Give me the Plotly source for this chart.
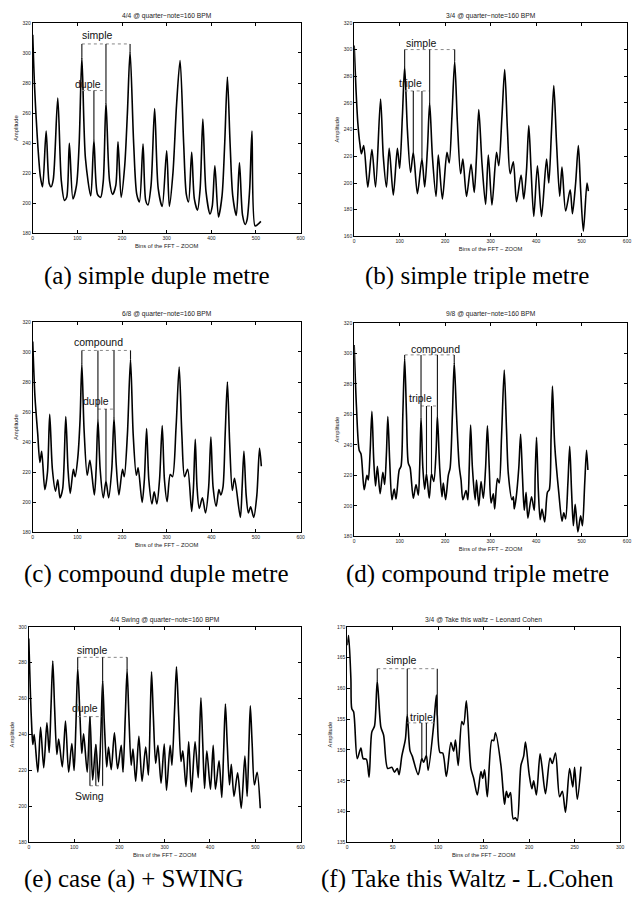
import numpy as np
import plotly.graph_objects as go

W, H = 633, 899

# ---------------- data ----------------
titles = ["4/4 @ quarter\u2212note=160 BPM", "3/4 @ quarter\u2212note=160 BPM",
          "6/8 @ quarter\u2212note=160 BPM", "9/8 @ quarter\u2212note=160 BPM",
          "4/4 Swing @ quarter\u2212note=160 BPM", "3/4 @ Take this waltz \u2212 Leonard Cohen"]
captions = ["(a) simple duple metre", "(b) simple triple metre",
            "(c) compound duple metre", "(d) compound triple metre",
            "(e) case (a) + SWING", "(f) Take this Waltz - L.Cohen"]

bins_a = [0, 4, 10, 17, 22, 30, 37, 41, 46, 56, 64, 71, 76, 82, 90, 98, 104, 110, 118, 130,
          137, 145, 152, 158, 164, 172, 179, 186, 191, 198, 206, 212, 218, 226, 233, 239, 247,
          253, 258, 265, 273, 281, 290, 300, 306, 314, 322, 330, 338, 344, 349, 356, 362, 369,
          375, 381, 388, 397, 402, 408, 416, 424, 430, 436, 442, 448, 456, 463, 470, 476, 480,
          486, 491, 498, 504, 511]
amp_a = [312, 278, 245, 218, 211, 248, 213, 211, 216, 270, 215, 202, 204, 240, 203, 212, 240,
         297, 230, 205, 242, 206, 204, 215, 267, 215, 206, 212, 241, 204, 225, 260, 301, 240,
         206, 201, 239.5, 202, 199, 212, 263, 210, 198, 235, 198, 220, 265, 295, 240, 206, 201,
         234, 203, 195.5, 210, 256, 208, 193, 198, 225, 191, 205, 240, 284, 240, 205, 192, 227,
         192, 186, 189, 210, 248, 185, 186, 188]

bins_b = [0, 4, 8, 13, 16, 21, 30, 39, 47, 58, 64, 71, 77, 86, 95, 100, 106, 111, 117, 124,
          130, 139, 149, 155, 161, 166, 172, 180, 185, 194, 204, 209, 215, 221, 227, 234, 239,
          247, 257, 264, 269, 274, 281, 289, 295, 303, 313, 318, 325, 331, 337, 343, 350, 357,
          367, 373, 379, 384, 389, 395, 403, 412, 423, 428, 434, 439, 445, 452, 457, 465, 475,
          480, 487, 493, 498, 504, 512, 515]
amp_b = [303, 270, 245, 228, 222, 228, 197, 225, 197, 263, 220, 197, 226, 191, 226, 211, 250,
         287, 240, 208, 223, 192, 218, 197, 225, 260, 220, 190, 221, 188, 223, 215, 250, 291,
         245, 207, 218, 190, 214, 193, 220, 255, 215, 184, 221, 183.5, 223, 213, 250, 285, 240,
         207, 216, 186, 206, 188, 210, 243, 210, 175, 213, 175, 218, 200, 240, 273, 230, 190,
         212, 179, 195, 177, 200, 228, 195, 164, 200, 194]

bins_c = [0, 5, 11, 16, 20, 27, 33, 38, 44, 51, 56, 61, 67, 74, 79, 84, 91, 95, 101, 106, 110,
          115, 122, 128, 138, 142, 146, 151, 158, 164, 170, 177, 182, 187, 193, 201, 205, 212,
          219, 225, 232, 236, 245, 250, 255, 260, 267, 272, 278, 284, 290, 295, 301, 308, 313,
          321, 328, 334, 340, 347, 356, 360, 364, 368, 373, 380, 387, 394, 399, 404, 411, 417,
          421, 426, 431, 436, 441, 447, 452, 465, 469, 473, 478, 483, 488, 495, 502, 508, 512]
amp_c = [307, 270, 246, 226.5, 234, 208.5, 220, 258.5, 222, 207.5, 215, 203, 209, 257, 222,
         206, 222, 217, 230, 255, 292, 248, 218, 228, 205, 222, 255, 222, 203, 214, 203, 222,
         256, 225, 205, 222, 217, 245, 295, 245, 218, 223, 200, 215, 249, 215, 199, 207, 199,
         215, 251, 215, 200.5, 218.5, 217, 250, 290, 245, 217, 222, 194, 210, 242, 210, 196,
         203, 193, 210, 243.5, 210, 197.5, 208.5, 205, 210, 245, 280, 240, 208, 216, 190, 210,
         234, 205, 193, 197, 190, 205, 236, 224]

bins_d = [0, 5, 11, 15, 22, 28, 31, 35, 39, 43, 47, 51, 57, 63, 67, 71, 74, 78, 83, 88, 92,
          99, 103, 107, 111, 115, 119, 123, 130, 136, 141, 144, 147, 151, 155, 159, 165, 170,
          175, 180, 183, 188, 193, 196, 201, 207, 211, 216, 220, 225, 231, 235, 239, 246, 250,
          253, 256, 260, 266, 269, 274, 279, 284, 289, 293, 297, 301, 306, 309, 315, 319, 324,
          330, 335, 339, 347, 350, 352, 356, 362, 366, 370, 374, 378, 382, 390, 396, 398, 401,
          405, 409, 413, 419, 425, 429, 433, 436, 441, 450, 457, 461, 465, 470, 474, 478, 482,
          486, 492, 498, 502, 507, 511, 514]
amp_d = [305.5, 265, 236.5, 234, 210.6, 220, 217, 235, 262, 230, 213, 226, 208, 222, 214, 235,
         258.5, 230, 204, 211, 204.5, 223.5, 226, 260, 297, 260, 228, 225, 205, 214, 207, 225,
         258, 225, 211, 221, 205, 221, 216, 235, 259, 225, 206, 215, 204, 220, 225, 260, 294,
         260, 226, 217, 204, 210, 204, 225, 253, 225, 204, 217, 200, 216, 205, 225, 252.5, 225,
         202, 208, 198, 218, 215, 245, 289, 250, 221, 204, 206, 198, 205, 225, 247, 220, 197,
         209, 192, 206, 197, 220, 245, 210, 191, 198, 189.5, 209, 210.6, 245, 278.5, 240, 208.5,
         190, 195.5, 191.5, 215, 239, 210, 187, 201, 183, 193.5, 187, 215, 236.5, 223.5]

bins_e = [0, 4, 7, 9, 12, 20, 26, 33, 40, 45, 49, 53, 57, 62, 66, 74, 81, 88, 95, 100, 104,
          108, 113, 117, 121, 129, 135, 141, 148, 154, 159, 163, 167, 172, 176, 182, 189, 196,
          204, 208, 213, 217, 221, 226, 230, 236, 243, 250, 258, 264, 268, 271, 275, 280, 285,
          292, 299, 304, 312, 316, 322, 326, 331, 336, 340, 347, 353, 359, 367, 374, 377, 380,
          384, 388, 393, 401, 407, 412, 420, 426, 430, 434, 438, 443, 447, 453, 461, 469, 477,
          482, 486, 489, 493, 498, 504, 511]
amp_e = [293.5, 260, 241.5, 234.5, 240, 219, 244, 221.5, 246.6, 230, 255, 281, 255, 229, 237.5,
         222, 247.5, 219, 235, 220, 245, 277, 250, 229.5, 240.5, 219, 250, 214.7, 234.5, 213.7,
         240, 270, 245, 222, 233, 220.5, 241, 221, 234, 219, 250, 276, 250, 223, 232, 214, 239,
         214, 233, 217.4, 250, 275, 250, 224, 234, 213, 234.7, 209, 234, 223, 255, 277.7, 250,
         225, 231, 211, 236, 208, 236, 216, 240, 260.5, 235, 210, 231, 209.6, 234, 209.6, 225.4,
         205, 230, 257, 235, 212, 223.5, 205.6, 218.7, 199, 228, 205.6, 235, 256, 235, 212, 219,
         199]

bins_f = [0, 1.5, 4, 5, 7, 11, 15, 17.5, 21, 24, 27, 30, 33, 37, 40, 44.5, 49, 52, 55, 57, 60,
          64, 66, 69, 71.5, 78, 82, 84, 87, 89, 95, 98, 99, 102, 105, 109, 114, 117, 119, 122,
          126, 128, 131, 136, 139, 143, 147, 149, 151, 154, 159, 161, 163, 169, 171.5, 173, 175,
          177, 179.5, 182.5, 185, 187, 191, 194, 196, 200, 203, 205, 208, 212, 214, 218, 223,
          225.5, 229, 233.5, 236.5, 240, 244.5, 248, 250, 253, 257]
amp_f = [167, 168.6, 161.6, 156.7, 156.2, 148.6, 150.3, 148.6, 148.5, 145.6, 152.9, 153.9,
         161.2, 153.7, 152.4, 147, 147.2, 146.4, 147, 146, 149, 151.8, 155.7, 149.9, 149, 146,
         148.6, 148, 149.1, 146.7, 154, 158.9, 155.6, 149.6, 149.5, 145.7, 151.2, 149.8, 151.6,
         147.5, 154.6, 154.1, 158, 147, 145.4, 142.7, 146.5, 145.4, 146.8, 142.4, 151.6, 151.5,
         152.8, 147.5, 143.2, 141.2, 143.3, 142.3, 143.1, 138.8, 139, 138.5, 147.5, 149, 151.3,
         146.1, 143.7, 145, 142.7, 149.4, 147.5, 142.9, 148.7, 147.8, 149.5, 142.4, 143.3,
         139.9, 147, 144, 147.2, 142, 147.3]

# metre markers: (label, marker bins, dotted span, level, label bin, label amplitude)
marks_a = [("simple", [110, 164, 218], [110, 218], 306, 146, 312),
           ("duple", [137], [110, 164], 275, 124, 279.5)]
marks_b = [("simple", [111, 166, 221], [111, 221], 300, 148, 304.6),
           ("triple", [130, 149], [111, 166], 269, 124, 274.8)]
marks_c = [("compound", [110, 146, 182, 219], [110, 219], 301, 148, 306.3),
           ("duple", [164], [146, 182], 262, 141, 267.2)]
marks_d = [("compound", [111, 147, 183, 220], [111, 220], 299, 178, 303),
           ("triple", [159, 170], [147, 183], 265.5, 146, 271)]
marks_e = [("simple", [108, 163, 217], [108, 217], 283, 140, 287),
           ("duple", [135], [108, 163], 250, 123, 255),
           ("Swing", [135, 148, 163], [135, 163], 211.5, 135, 206)]
marks_f = [("simple", [33, 66, 99], [33, 99], 163.2, 59.6, 164.6),
           ("triple", [82, 87], [66, 99], 154.4, 82, 155.4)]

x_ranges = [[0, 600]] * 5 + [[0, 300]]
x_dticks = [100] * 5 + [50]
y_ranges = [[180, 320], [160, 320], [180, 320], [180, 320], [180, 300], [135, 170]]
y_dticks = [20, 20, 20, 20, 20, 5]

series = [(bins_a, amp_a, marks_a), (bins_b, amp_b, marks_b), (bins_c, amp_c, marks_c),
          (bins_d, amp_d, marks_d), (bins_e, amp_e, marks_e), (bins_f, amp_f, marks_f)]

# ---------------- layout (pixel boxes of each plot area) ----------------
boxes = [(32, 302, 20, 232), (356, 631, 20, 235),
         (32, 302, 321, 533), (356, 631, 322, 537),
         (28, 302, 628, 845), (349, 624, 628, 845)]
title_y = [13, 13, 313, 313, 621, 621]
caption_pos = [(157, 275, "center"), (480, 275, "center"),
               (157, 575, "center"), (480, 575, "center"),
               (134, 882, "center"), (321, 882, "left")]

fig = go.Figure()
annotations = []
SANS = "Liberation Sans, Arial, Helvetica, sans-serif"
SERIF = "Liberation Serif, Times New Roman, serif"

for i, ((bx, by, marks), (x0, x1, y0, y1)) in enumerate(zip(series, boxes)):
    n = "" if i == 0 else str(i + 1)
    xa, ya = "x" + n, "y" + n
    fig.add_trace(go.Scatter(x=bx, y=by, mode="lines", xaxis=xa, yaxis=ya,
                             line=dict(color="black", width=1.6, shape="spline", smoothing=0.8),
                             hoverinfo="skip", showlegend=False))
    vx, vy, hx, hy = [], [], [], []
    for label, mbins, span, level, lx, ly in marks:
        for b in mbins:
            cv = float(np.interp(b, bx, by))
            vx += [b, b, None]
            vy += [cv, level, None]
        hx += [span[0], span[1], None]
        hy += [level, level, None]
        annotations.append(dict(x=lx, y=ly, xref=xa, yref=ya, text=label, showarrow=False,
                                font=dict(family=SANS, size=10.5, color="#111"),
                                xanchor="center", yanchor="middle"))
    fig.add_trace(go.Scatter(x=hx, y=hy, mode="lines", xaxis=xa, yaxis=ya,
                             line=dict(color="#888", width=1, dash="dot"),
                             hoverinfo="skip", showlegend=False))
    fig.add_trace(go.Scatter(x=vx, y=vy, mode="lines", xaxis=xa, yaxis=ya,
                             line=dict(color="#111", width=1.1),
                             hoverinfo="skip", showlegend=False))
    common = dict(showline=True, linecolor="black", linewidth=1, mirror="ticks",
                  ticks="inside", ticklen=3, tickcolor="black", showgrid=False,
                  zeroline=False, tickfont=dict(family=SANS, size=5, color="#222"))
    fig.layout["xaxis" + n] = dict(domain=[x0 / W, x1 / W], range=x_ranges[i],
                                   dtick=x_dticks[i], tick0=0, anchor=ya,
                                   title=dict(text="Bins of the FFT \u2212 ZOOM", standoff=3,
                                              font=dict(family=SANS, size=5.8, color="#222")),
                                   **common)
    fig.layout["yaxis" + n] = dict(domain=[1 - y1 / H, 1 - y0 / H], range=y_ranges[i],
                                   dtick=y_dticks[i], tick0=0, anchor=xa,
                                   title=dict(text="Amplitude", standoff=3,
                                              font=dict(family=SANS, size=5.8, color="#222")),
                                   **common)
    annotations.append(dict(x=(x0 + x1) / 2 / W, y=1 - title_y[i] / H, xref="paper",
                            yref="paper", text=titles[i], showarrow=False,
                            font=dict(family=SANS, size=6.7, color="#222"),
                            xanchor="center", yanchor="middle"))
    cx, cy, anch = caption_pos[i]
    annotations.append(dict(x=cx / W, y=1 - cy / H, xref="paper", yref="paper",
                            text=captions[i], showarrow=False,
                            font=dict(family=SERIF, size=25, color="black"),
                            xanchor=anch, yanchor="middle"))

fig.update_layout(width=W, height=H, margin=dict(l=0, r=0, t=0, b=0),
                  paper_bgcolor="white", plot_bgcolor="white",
                  annotations=annotations, showlegend=False)

fig.write_html("out.html", post_script="document.body.style.margin='0px';",
               config={"displayModeBar": False})
